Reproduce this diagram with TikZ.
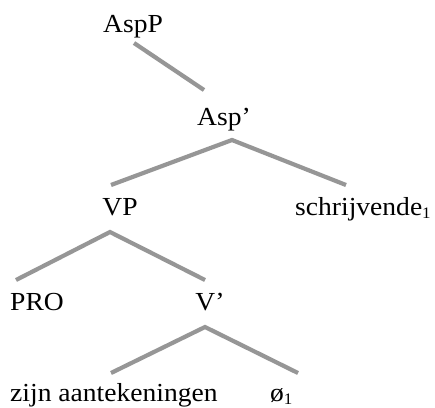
\documentclass[tikz,border=0pt]{standalone}
\usepackage{fontspec}
\setmainfont{Liberation Serif}[FakeStretch=1.06]
\usetikzlibrary{calc}
\newcommand{\lowidx}[1]{\raisebox{-3pt}{\fontsize{16}{16}\selectfont #1}}
\begin{document}
\begin{tikzpicture}[x=1pt,y=-1pt,
  lbl/.style={inner sep=0pt,font=\fontsize{26}{30}\selectfont},
  branch/.style={draw={rgb,255:red,150;green,150;blue,150},line width=4.2pt,line cap=butt}]
\useasboundingbox (0,0) rectangle (435,407);
% labels, placed by their baselines
\node[lbl,anchor=base] (aspp) at (133,32) {AspP};
\node[lbl,anchor=base] (aspbar) at (224,125) {Asp’};
\node[lbl,anchor=base] (vp) at (120,215) {VP};
\node[lbl,anchor=base west] (schr) at (295,215) {schrijvende\lowidx{1}};
\node[lbl,anchor=base west] (pro) at (10,310) {PRO};
\node[lbl,anchor=base] (vbar) at (210,310) {V’};
\node[lbl,anchor=base west] (zijn) at (10,401) {zijn aantekeningen};
\node[lbl,anchor=base west] (empty) at (270,401) {ø\lowidx{1}};
% branches
\draw[branch] ($(aspp.base)+(1,11)$) -- ($(aspbar.base)+(-20,-35)$);
\draw[branch] ($(vp.base)+(-9,-30)$) -- ($(aspbar.base)+(8,15)$) -- ($(schr.base west)+(51,-30)$);
\draw[branch] ($(pro.base west)+(6,-30)$) -- ($(vp.base)+(-10,17)$) -- ($(vbar.base)+(-5,-30)$);
\draw[branch] ($(zijn.base west)+(101,-28)$) -- ($(vbar.base)+(-5,17)$) -- ($(empty.base west)+(28,-28)$);
\end{tikzpicture}
\end{document}
